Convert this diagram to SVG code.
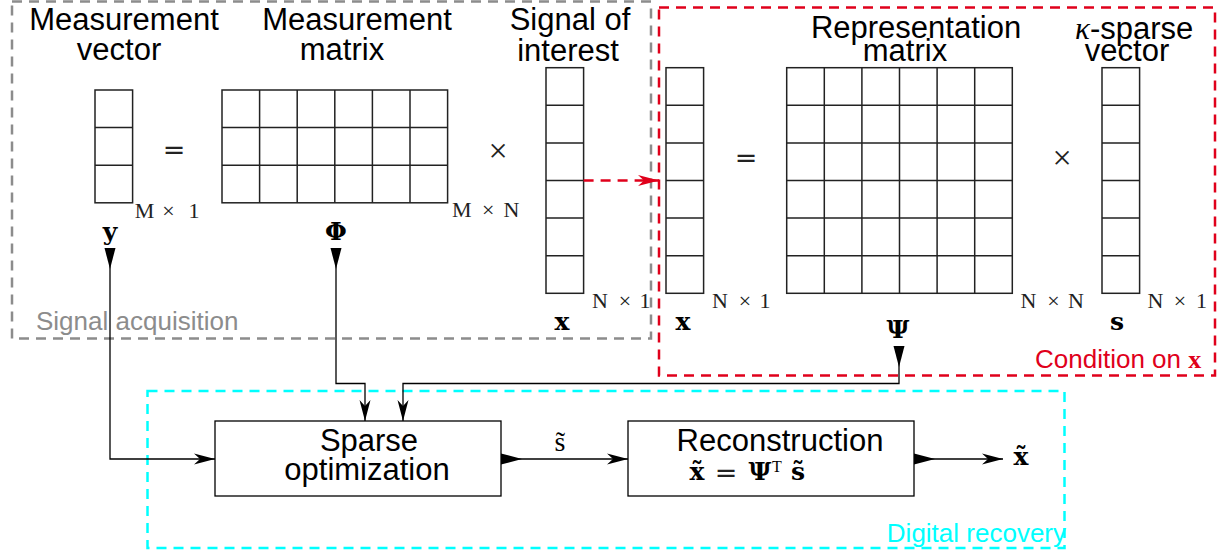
<svg xmlns="http://www.w3.org/2000/svg" width="1230" height="555" viewBox="0 0 1230 555">
<style>
.lbl{font-family:"Liberation Sans",Arial,sans-serif;font-size:31px;fill:#000;text-anchor:middle}
.dim{font-family:"Liberation Serif","Times New Roman",serif;font-size:22px;fill:#222;text-anchor:middle}
.bv{font-family:"DejaVu Serif",serif;font-weight:bold;font-size:25px;fill:#000;text-anchor:middle}
.op{font-family:"DejaVu Sans",sans-serif;font-size:27px;fill:#222;text-anchor:middle}
.mul{font-family:"Liberation Serif","Times New Roman",serif;font-size:34px;fill:#222;text-anchor:middle}
.grid{fill:none;stroke:#222;stroke-width:1.5}
.box{fill:#fff;stroke:#000;stroke-width:1.3}
.dash{fill:none;stroke-width:2.5;stroke-dasharray:10 7}
.conn{fill:none;stroke:#000;stroke-width:1.3}
</style>
<defs>
<marker id="tri" markerUnits="userSpaceOnUse" orient="auto" overflow="visible" markerWidth="1" markerHeight="1" refX="0" refY="0"><path d="M0,-5.5 L21,0 L0,5.5 z" fill="#000"/></marker>
<marker id="stealth" markerUnits="userSpaceOnUse" orient="auto" overflow="visible" markerWidth="1" markerHeight="1" refX="0" refY="0"><path d="M0,0 L-21,-5.5 L-15,0 L-21,5.5 z" fill="#000"/></marker>
<marker id="stealthRed" markerUnits="userSpaceOnUse" orient="auto" overflow="visible" markerWidth="1" markerHeight="1" refX="0" refY="0"><path d="M0,0 L-21,-5.5 L-15,0 L-21,5.5 z" fill="#e0001b"/></marker>
</defs>
<rect width="1230" height="555" fill="#fff"/>

<g id="box-acquisition">
<rect class="dash" x="12" y="1.5" width="639" height="337" stroke="#8c8c8c"/>
<text x="36" y="330" font-family="Liberation Sans,Arial,sans-serif" font-size="26" fill="#8c8c8c">Signal acquisition</text>
</g>
<g id="box-condition">
<rect class="dash" x="659" y="7.5" width="556" height="368" stroke="#e0001b"/>
<text x="1035" y="368" font-family="Liberation Sans,Arial,sans-serif" font-size="26" fill="#e0001b">Condition on <tspan font-family="Liberation Serif,serif" font-weight="bold">x</tspan></text>
</g>
<g id="box-recovery">
<rect class="dash" x="147.5" y="391" width="917" height="157" stroke="#00ffff"/>
<text x="1066" y="542" text-anchor="end" font-family="Liberation Sans,Arial,sans-serif" font-size="26" fill="#00ffff">Digital recovery</text>
</g>

<g id="vec-y">
<text class="lbl" x="124" y="30">Measurement</text>
<text class="lbl" x="119" y="60">vector</text>
<rect class="grid" x="95" y="90" width="37.6" height="112.8"/>
<path class="grid" d="M95,127.6H132.6M95,165.2H132.6"/>
<text class="dim" x="144.5" y="218">M</text><text class="dim" x="168.5" y="218">×</text><text class="dim" x="194" y="218">1</text>
<text class="bv" x="110" y="240">y</text>
</g>
<text class="op" x="174" y="159">=</text>

<g id="mat-phi">
<text class="lbl" x="357" y="30">Measurement</text>
<text class="lbl" x="342" y="60">matrix</text>
<rect class="grid" x="222" y="90" width="225.6" height="112.8"/>
<path class="grid" d="M259.6,90V202.8M297.2,90V202.8M334.8,90V202.8M372.4,90V202.8M410,90V202.8M222,127.6H447.6M222,165.2H447.6"/>
<text class="dim" x="461.7" y="217">M</text><text class="dim" x="488.3" y="217">×</text><text class="dim" x="511.5" y="217">N</text>
<text class="bv" x="336" y="240" font-size="24">Φ</text>
</g>
<text class="mul" x="498" y="162">×</text>

<g id="vec-x1">
<text class="lbl" x="570" y="30">Signal of</text>
<text class="lbl" x="568" y="61">interest</text>
<rect class="grid" x="546" y="67.7" width="37.6" height="225.6"/>
<path class="grid" d="M546,105.3H583.6M546,142.9H583.6M546,180.5H583.6M546,218.1H583.6M546,255.7H583.6"/>
<text class="dim" x="600" y="308">N</text><text class="dim" x="625" y="308">×</text><text class="dim" x="645" y="308">1</text>
<text class="bv" x="562" y="330">x</text>
</g>

<g id="vec-x2">
<rect class="grid" x="666" y="67.7" width="37.6" height="225.6"/>
<path class="grid" d="M666,105.3H703.6M666,142.9H703.6M666,180.5H703.6M666,218.1H703.6M666,255.7H703.6"/>
<text class="dim" x="720" y="308">N</text><text class="dim" x="745" y="308">×</text><text class="dim" x="765" y="308">1</text>
<text class="bv" x="683" y="330">x</text>
</g>
<text class="op" x="746" y="167">=</text>

<g id="mat-psi">
<text class="lbl" x="916" y="38">Representation</text>
<text class="lbl" x="905" y="61">matrix</text>
<rect class="grid" x="786.7" y="67.7" width="225.6" height="225.6"/>
<path class="grid" d="M824.3,67.7V293.3M861.9,67.7V293.3M899.5,67.7V293.3M937.1,67.7V293.3M974.7,67.7V293.3M786.7,105.3H1012.3M786.7,142.9H1012.3M786.7,180.5H1012.3M786.7,218.1H1012.3M786.7,255.7H1012.3"/>
<text class="dim" x="1028.5" y="308">N</text><text class="dim" x="1053.5" y="308">×</text><text class="dim" x="1076" y="308">N</text>
<text class="bv" x="898" y="338" font-size="24">Ψ</text>
</g>
<text class="mul" x="1062" y="169">×</text>

<g id="vec-s">
<text x="1075" y="39" font-family="Liberation Sans,Arial,sans-serif" font-size="31"><tspan font-family="Liberation Serif,serif" font-style="italic">κ</tspan>-sparse</text>
<text class="lbl" x="1127" y="61">vector</text>
<rect class="grid" x="1102" y="67.7" width="37.6" height="225.6"/>
<path class="grid" d="M1102,105.3H1139.6M1102,142.9H1139.6M1102,180.5H1139.6M1102,218.1H1139.6M1102,255.7H1139.6"/>
<text class="dim" x="1155.5" y="308">N</text><text class="dim" x="1180" y="308">×</text><text class="dim" x="1201.5" y="308">1</text>
<text class="bv" x="1117" y="330">s</text>
</g>

<g id="node-sparse">
<rect class="box" x="215" y="421" width="286" height="75"/>
<text class="lbl" x="369" y="451">Sparse</text>
<text class="lbl" x="367" y="480">optimization</text>
</g>

<g id="node-recon">
<rect class="box" x="628" y="421" width="286" height="75"/>
<text class="lbl" x="780" y="451">Reconstruction</text>
<text class="bv" x="697" y="480">x̃</text>
<text class="op" x="726" y="482">=</text>
<text class="bv" x="760" y="480" font-size="24">Ψ</text>
<text x="777" y="472" font-family="Liberation Serif,serif" font-size="16" text-anchor="middle">T</text>
<text class="bv" x="798" y="480">s̃</text>
</g>

<g id="connectors">
<path class="conn" d="M110,248V459H215" marker-start="url(#tri)" marker-end="url(#stealth)"/>
<path class="conn" d="M336,248V383.5H365V421" marker-start="url(#tri)" marker-end="url(#stealth)"/>
<path class="conn" d="M899,346V383.5H403V421" marker-start="url(#tri)" marker-end="url(#stealth)"/>
<path class="conn" d="M501,459H628" marker-start="url(#tri)" marker-end="url(#stealth)"/>
<path class="conn" d="M914,459H1003" marker-start="url(#tri)" marker-end="url(#stealth)"/>
<path d="M583.6,180.5H659" fill="none" stroke="#e0001b" stroke-width="2.5" stroke-dasharray="10 7" marker-end="url(#stealthRed)"/>
<text x="560" y="451" font-family="Liberation Serif,serif" font-size="28" text-anchor="middle">s̃</text>
<text class="bv" x="1021" y="465">x̃</text>
</g>
</svg>
